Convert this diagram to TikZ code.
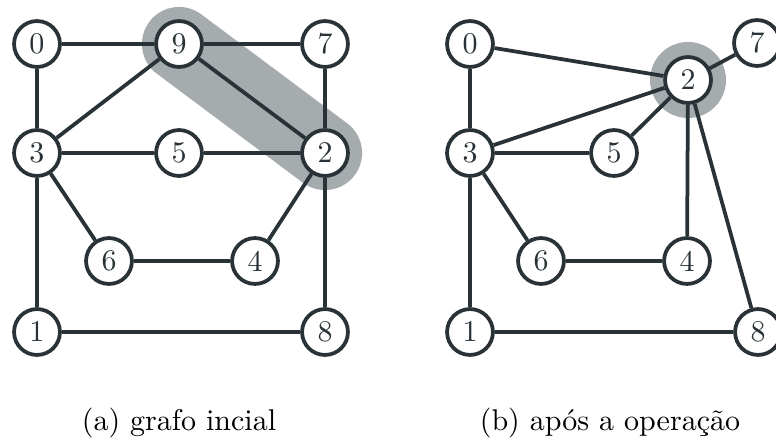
\documentclass[tikz,border=0pt]{standalone}
\usepackage{fontspec}
\usetikzlibrary{backgrounds}
\definecolor{ink}{RGB}{40,50,55}
\definecolor{hilite}{RGB}{166,171,173}
\tikzset{
  vtx/.style={circle, draw=ink, line width=1.25pt, fill=white, minimum size=15.3pt, inner sep=0pt, text=ink},
  edge/.style={draw=ink, line width=1.25pt},
  band/.style={draw=hilite, line width=24.7pt, line cap=round},
  caption/.style={anchor=base, inner sep=0pt, text=black},
}
\begin{document}
\begin{tikzpicture}[x=0.3333pt, y=-0.3333pt]
\useasboundingbox (0,0) rectangle (776,439);

% (a) initial graph
\node[vtx] (a0) at (37,44) {0};
\node[vtx] (a9) at (179,44) {9};
\node[vtx] (a7) at (325,44) {7};
\node[vtx] (a3) at (37,153) {3};
\node[vtx] (a5) at (179,153) {5};
\node[vtx] (a2) at (325,153) {2};
\node[vtx] (a6) at (109,261) {6};
\node[vtx] (a4) at (255,261) {4};
\node[vtx] (a1) at (37,332) {1};
\node[vtx] (a8) at (325,332) {8};
\begin{scope}[on background layer]
  \draw[band] (a9.center) -- (a2.center);
\end{scope}
\foreach \u/\v in {a0/a9, a9/a7, a0/a3, a9/a3, a9/a2, a7/a2, a3/a5, a5/a2,
                   a3/a1, a3/a6, a6/a4, a4/a2, a2/a8, a1/a8}
  \draw[edge] (\u) -- (\v);
\node[caption] (capa) at (179,430) {(a) grafo incial};

% (b) graph after contracting the edge 9--2
\node[vtx] (b0) at (470,44) {0};
\node[vtx] (b2) at (688,80) {2};
\node[vtx] (b7) at (757,43) {7};
\node[vtx] (b3) at (470,153) {3};
\node[vtx] (b5) at (614,153) {5};
\node[vtx] (b6) at (541,261) {6};
\node[vtx] (b4) at (687,261) {4};
\node[vtx] (b1) at (470,332) {1};
\node[vtx] (b8) at (758,332) {8};
\begin{scope}[on background layer]
  \fill[hilite] (b2.center) circle[radius=38];
\end{scope}
\foreach \u/\v in {b0/b3, b0/b2, b3/b2, b3/b5, b5/b2, b2/b7, b2/b4, b2/b8,
                   b3/b1, b3/b6, b6/b4, b1/b8}
  \draw[edge] (\u) -- (\v);
\node[caption] (capb) at (610,430) {(b) após a operação};
\end{tikzpicture}
\end{document}
